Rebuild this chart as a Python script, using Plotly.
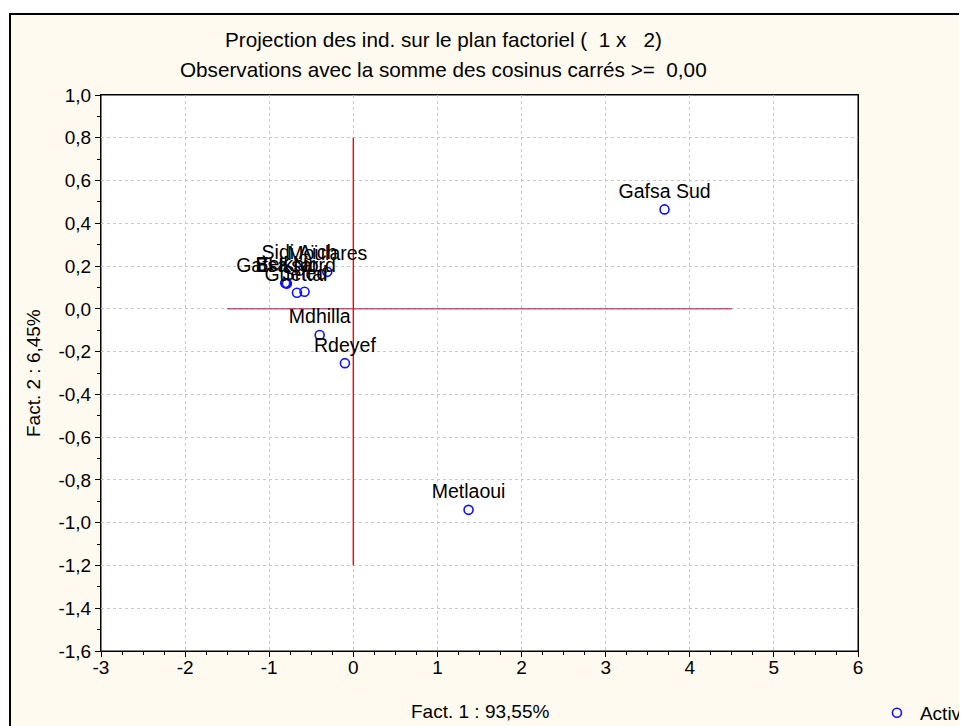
import plotly.graph_objects as go

# ---- data ----
names = ["Gafsa Sud", "Metlaoui", "Rdeyef", "Mdhilla", "Sidi Aïch", "Moulares",
         "Gafsa Nord", "El Ksar", "Belkhir", "Guettar", "Sned"]
fact1 = [3.70, 1.37, -0.10, -0.40, -0.64, -0.31, -0.80, -0.79, -0.81, -0.67, -0.58]
fact2 = [0.465, -0.94, -0.254, -0.122, 0.178, 0.173, 0.120, 0.118, 0.121, 0.075, 0.080]

x_ticks = [-3, -2, -1, 0, 1, 2, 3, 4, 5, 6]
y_ticks = [1.0, 0.8, 0.6, 0.4, 0.2, 0.0, -0.2, -0.4, -0.6, -0.8, -1.0, -1.2, -1.4, -1.6]

vline_x = [0, 0]
vline_y = [-1.2, 0.8]
hline_x = [-1.5, 4.5]
hline_y = [0, 0]

title1 = "Projection des ind. sur le plan factoriel (  1 x   2)"
title2 = "Observations avec la somme des cosinus carrés >=  0,00"
xlabel = "Fact. 1 : 93,55%"
ylabel = "Fact. 2 : 6,45%"

FONT = "Liberation Sans, Arial, sans-serif"

fig = go.Figure()

fig.add_trace(go.Scatter(x=hline_x, y=hline_y, mode="lines",
                         line=dict(color="#A01040", width=1), showlegend=False,
                         hoverinfo="skip"))
fig.add_trace(go.Scatter(x=vline_x, y=vline_y, mode="lines",
                         line=dict(color="#FF0000", width=1.4), showlegend=False,
                         hoverinfo="skip"))
fig.add_trace(go.Scatter(
    x=fact1, y=fact2, mode="markers+text", text=names,
    textposition="top center",
    textfont=dict(family=FONT, size=19.5, color="black"),
    marker=dict(symbol="circle-open", size=9, color="#1010FF",
                line=dict(width=1.6, color="#1010FF")),
    name="Active"))

# background frame (cream) and white plot area
fig.add_shape(type="rect", xref="paper", yref="paper",
              x0=-0.1202, x1=1.4, y0=-0.4, y1=1.1457,
              fillcolor="#FFFAF0", line=dict(color="black", width=2), layer="below")
fig.add_shape(type="rect", xref="paper", yref="paper",
              x0=0, x1=1, y0=0, y1=1,
              fillcolor="white", line=dict(color="black", width=1), layer="below")

axis_common = dict(
    showline=True, linecolor="black", linewidth=1, mirror=True,
    showgrid=True, gridcolor="#C8C8C8", griddash="dot", gridwidth=1,
    zeroline=False, ticks="outside", ticklen=5, tickcolor="black",
    tickfont=dict(family=FONT, size=19, color="black"),
    automargin=False,
)

fig.update_xaxes(range=[-3, 6], tickvals=x_ticks,
                 ticktext=[str(v) for v in x_ticks],
                 ticklabelstandoff=-6,
                 minor=dict(dtick=0.25, ticks="outside", ticklen=3, tickcolor="black",
                            showgrid=False),
                 **axis_common)
fig.update_yaxes(range=[-1.6, 1.0], tickvals=y_ticks,
                 ticktext=[f"{v:.1f}".replace(".", ",") for v in y_ticks],
                 minor=dict(dtick=0.1, ticks="outside", ticklen=3, tickcolor="black",
                            showgrid=False),
                 **axis_common)

fig.add_annotation(text=title1, xref="paper", yref="paper", x=0.453, y=1.099,
                   showarrow=False, xanchor="center", yanchor="middle",
                   font=dict(family=FONT, size=20.7, color="black"))
fig.add_annotation(text=title2, xref="paper", yref="paper", x=0.453, y=1.045,
                   showarrow=False, xanchor="center", yanchor="middle",
                   font=dict(family=FONT, size=20.7, color="black"))
fig.add_annotation(text=xlabel, xref="paper", yref="paper", x=0.5, y=-0.1097,
                   showarrow=False, xanchor="center", yanchor="middle",
                   font=dict(family=FONT, size=19, color="black"))
fig.add_annotation(text=ylabel, xref="paper", yref="paper", x=-0.0898, y=0.5,
                   showarrow=False, xanchor="center", yanchor="middle", textangle=-90,
                   font=dict(family=FONT, size=19, color="black"))

fig.update_layout(
    width=967, height=726,
    margin=dict(l=93, r=117, t=87, b=83, autoexpand=False),
    paper_bgcolor="white", plot_bgcolor="white",
    showlegend=True,
    legend=dict(xref="container", yref="container", x=0.8955, y=0.029,
                xanchor="left", yanchor="middle",
                bgcolor="rgba(0,0,0,0)", font=dict(family=FONT, size=19, color="black"),
                itemwidth=36),
)

fig.write_html("out.html")
